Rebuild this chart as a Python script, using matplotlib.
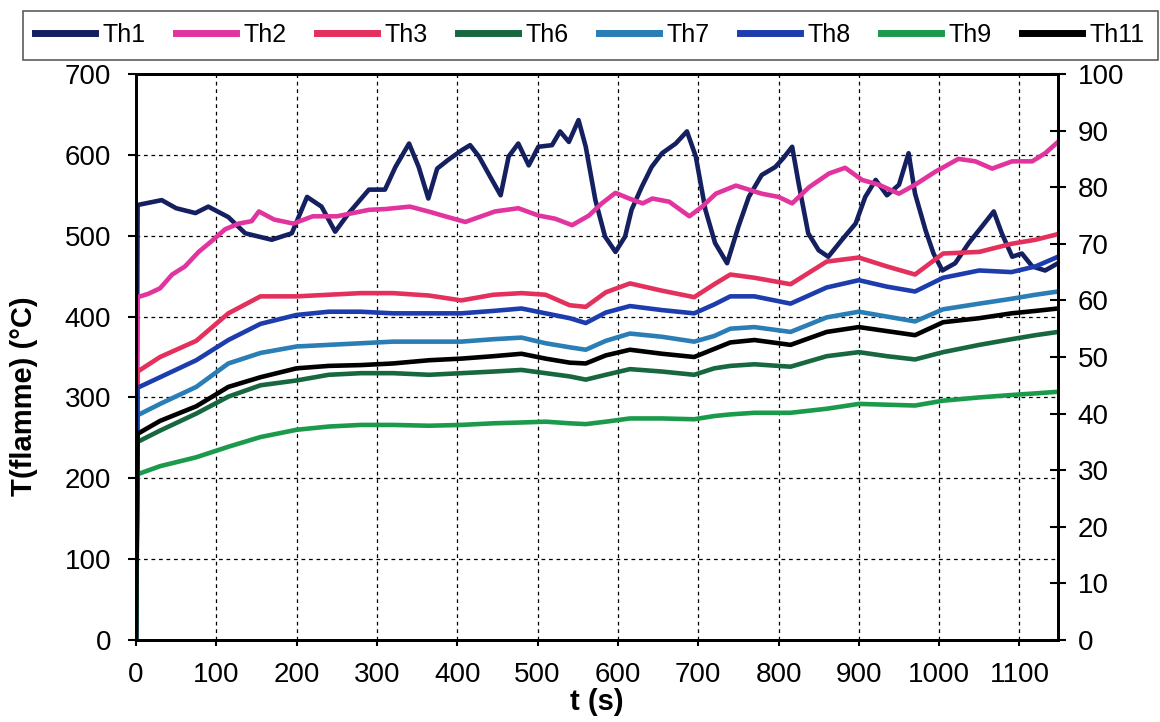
import matplotlib.pyplot as plt

plt.rcParams['font.family'] = ['Liberation Sans', 'DejaVu Sans']

# time grid shared by the smooth thermocouples
t = [0, 2, 30, 75, 115, 155, 200, 240, 280, 320,
     365, 405, 445, 480, 510, 540, 560, 585, 615, 655,
     695, 720, 740, 770, 815, 860, 900, 935, 970, 1005,
     1050, 1090, 1120, 1148]

th3 = [0, 332, 350, 370, 404, 425, 425, 427, 429, 429,
       426, 420, 427, 429, 427, 414, 412, 430, 441, 432,
       424, 440, 452, 448, 440, 468, 473, 462, 452, 478,
       480, 490, 495, 502]
th6 = [0, 245, 259, 280, 301, 315, 321, 328, 330, 330,
       328, 330, 332, 334, 330, 326, 322, 328, 335, 332,
       328, 336, 339, 341, 338, 351, 356, 351, 347, 356,
       365, 372, 377, 381]
th7 = [0, 278, 292, 313, 342, 355, 363, 365, 367, 369,
       369, 369, 372, 374, 367, 362, 359, 370, 379, 375,
       369, 376, 385, 387, 381, 399, 406, 400, 394, 409,
       416, 422, 427, 431]
th8 = [0, 312, 325, 346, 371, 391, 402, 406, 406, 404,
       404, 404, 407, 410, 404, 398, 392, 405, 413, 408,
       404, 415, 425, 425, 416, 436, 445, 437, 431, 448,
       457, 455, 462, 474]
th9 = [0, 205, 215, 226, 239, 251, 260, 264, 266, 266,
       265, 266, 268, 269, 270, 268, 267, 270, 274, 274,
       273, 277, 279, 281, 281, 286, 292, 291, 290, 296,
       300, 303, 305, 307]
th11 = [0, 255, 271, 289, 313, 325, 336, 339, 340, 342,
        346, 348, 351, 354, 348, 343, 342, 352, 359, 354,
        350, 360, 368, 371, 365, 381, 387, 382, 377, 393,
        398, 404, 407, 410]

# Th1 and Th2 move a lot, read on their own time points
t1 = [0, 2, 32, 50, 74, 90, 115, 136, 169, 194,
      213, 231, 248, 265, 290, 310, 323, 340, 352, 364,
      375, 389, 406, 416, 427, 441, 454, 464, 476, 489,
      501, 518, 528, 539, 551, 560, 572, 584, 597, 609,
      617, 630, 642, 655, 672, 686, 697, 709, 721, 736,
      750, 763, 779, 796, 806, 817, 825, 837, 850, 862,
      879, 896, 908, 921, 935, 950, 962, 970, 983, 993,
      1004, 1020, 1037, 1053, 1068, 1078, 1091, 1103, 1116, 1132,
      1148]
th1 = [0, 538, 544, 534, 528, 536, 523, 503, 495, 503,
       548, 536, 505, 528, 557, 557, 585, 614, 585, 546,
       583, 594, 606, 612, 598, 573, 550, 598, 614, 587,
       610, 612, 629, 616, 643, 610, 544, 499, 480, 499,
       532, 561, 585, 602, 614, 629, 598, 532, 491, 466,
       511, 548, 575, 585, 596, 610, 565, 503, 482, 474,
       495, 515, 548, 569, 550, 563, 602, 552, 507, 478,
       457, 466, 491, 511, 530, 503, 474, 478, 462, 457,
       466]

t2 = [0, 2, 15, 30, 45, 61, 78, 95, 111, 128,
      144, 153, 172, 196, 220, 250, 290, 311, 341, 364,
      385, 410, 447, 476, 501, 522, 543, 564, 580, 597,
      614, 631, 643, 664, 689, 705, 722, 747, 779, 800,
      817, 838, 863, 883, 904, 925, 950, 970, 995, 1024,
      1045, 1066, 1091, 1116, 1132, 1148]
th2 = [0, 424, 428, 435, 452, 462, 480, 494, 508, 515,
       518, 530, 520, 515, 524, 524, 532, 533, 536, 530,
       524, 517, 530, 534, 525, 521, 513, 525, 540, 553,
       546, 540, 546, 542, 524, 536, 552, 562, 552, 548,
       540, 560, 577, 584, 569, 563, 552, 563, 579, 595,
       592, 583, 592, 592, 602, 616]

series = [
    ("Th1", t1, th1, "#14205f"),
    ("Th2", t2, th2, "#e2349e"),
    ("Th3", t, th3, "#e3305c"),
    ("Th6", t, th6, "#17673f"),
    ("Th7", t, th7, "#2a7db5"),
    ("Th8", t, th8, "#1d3cad"),
    ("Th9", t, th9, "#1c9a4c"),
    ("Th11", t, th11, "#000000"),
]

fig = plt.figure(figsize=(11.6, 7.22), dpi=100)
ax = fig.add_axes([136 / 1160, 1 - 640 / 722, (1058 - 136) / 1160, (640 - 74) / 722])

for name, x, y, c in series:
    ax.plot(x, y, color=c, lw=3.3, label=name)

ax.set_xlim(0, 1148)
ax.set_ylim(0, 700)
ax.set_xticks(range(0, 1101, 100))
ax.set_yticks(range(0, 701, 100))
ax.grid(True, color="black", lw=0.9, linestyle=(0, (3, 3)))
ax.tick_params(axis="both", labelsize=20, width=1.5)
ax.tick_params(axis="x", direction="out", length=4, pad=12)
ax.tick_params(axis="y", direction="out", length=6, pad=12)
for sp in ax.spines.values():
    sp.set_linewidth(2)

ax.set_xlabel("t (s)", fontsize=21, fontweight="bold", labelpad=0)
ax.set_ylabel("T(flamme) (°C)", fontsize=21, fontweight="bold")
ax.yaxis.set_label_coords(-0.106, 0.43)

ax2 = ax.twinx()
ax2.set_ylim(0, 100)
ax2.set_yticks(range(0, 101, 10))
ax2.tick_params(axis="y", labelsize=20, direction="inout", length=12, width=1.5, pad=8)
for sp in ax2.spines.values():
    sp.set_linewidth(2)

handles, labels = ax.get_legend_handles_labels()
leg = fig.legend(handles, labels, ncol=8, loc="center", mode="expand",
                 bbox_to_anchor=(10 / 1160, 1 - 62 / 722, 1.0, 54 / 722),
                 fontsize=18, handlelength=2.4, handletextpad=0.3,
                 fancybox=False, edgecolor="#333333", borderpad=0.5)
leg.get_frame().set_linewidth(1.2)
for line in leg.get_lines():
    line.set_linewidth(5)

fig.savefig("out.png", dpi=100)
